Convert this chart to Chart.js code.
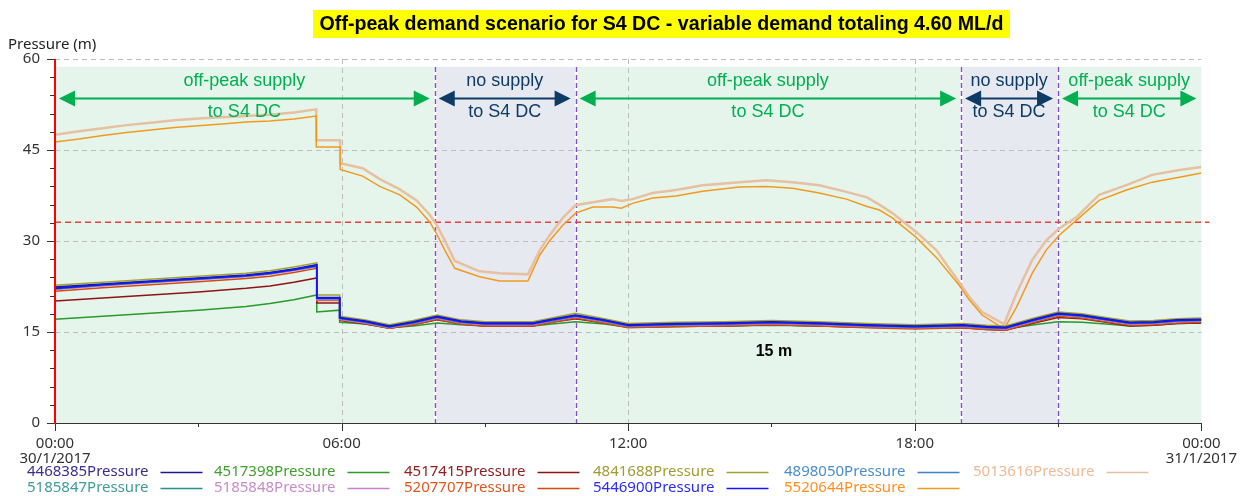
<!DOCTYPE html>
<html>
<head>
<meta charset="utf-8">
<script src="https://cdn.jsdelivr.net/npm/chart.js@4.4.0/dist/chart.umd.min.js"></script>
<style>
html,body{margin:0;padding:0;background:#ffffff;}
#wrap{position:relative;width:1250px;height:496px;}
</style>
</head>
<body>
<div id="wrap"><canvas id="c" width="1250" height="496"></canvas></div>
<script>
// ---------------- DATA ----------------
const chartTitle = 'Off-peak demand scenario for S4 DC - variable demand totaling 4.60 ML/d';
const yAxisTitle = 'Pressure (m)';

const timeTickHours = [0, 6, 12, 18, 24];
const timeTickLabels = [['00:00', '30/1/2017'], '06:00', '12:00', '18:00', ['00:00', '31/1/2017']];
const pressureTickValues = [0, 15, 30, 45, 60];

// time (hours) for the network-node series
const hoursLow = [0, 1, 2, 3, 4, 4.5, 5.0, 5.48, 5.48, 5.96, 5.96, 6.5, 7.0, 7.5, 8.0, 8.5, 9.0, 9.5, 10.0, 10.4,
  10.9, 11.5, 12.0, 13, 14, 15, 16, 17, 18, 19, 19.5, 19.9, 20.5, 21.0, 21.5, 22.0, 22.5, 23.0, 23.5, 24];

const p4468385 = [22.4, 22.9, 23.4, 23.9, 24.4, 24.8, 25.4, 26.1, 20.7, 20.7, 17.4, 16.8, 16.0, 16.7, 17.6, 16.8, 16.5, 16.5, 16.5, 17.1,
  17.8, 17.0, 16.2, 16.4, 16.5, 16.7, 16.5, 16.2, 16.0, 16.2, 15.9, 15.8, 17.1, 18.1, 17.8, 17.2, 16.6, 16.7, 17.0, 17.1];
const p4517398 = [17.1, 17.6, 18.1, 18.6, 19.2, 19.7, 20.3, 21.1, 18.3, 18.6, 16.6, 16.3, 15.7, 16.0, 16.5, 16.2, 16.0, 16.0, 16.0, 16.3,
  16.7, 16.3, 15.8, 15.9, 16.0, 16.1, 16.0, 15.8, 15.7, 15.8, 15.6, 15.5, 16.2, 16.7, 16.6, 16.3, 16.0, 16.1, 16.4, 16.5];
const p4517415 = [20.1, 20.6, 21.1, 21.6, 22.2, 22.6, 23.2, 23.9, 19.8, 19.8, 16.9, 16.3, 15.6, 16.2, 17.0, 16.3, 16.0, 16.0, 16.0, 16.6,
  17.2, 16.5, 15.8, 15.9, 16.0, 16.2, 16.0, 15.8, 15.6, 15.7, 15.4, 15.3, 16.5, 17.4, 17.2, 16.6, 16.0, 16.1, 16.4, 16.5];
const p4841688 = [22.7, 23.2, 23.7, 24.2, 24.7, 25.1, 25.7, 26.4, 21.1, 21.1, 17.6, 17.0, 16.2, 16.9, 17.8, 17.0, 16.7, 16.7, 16.7, 17.3,
  18.1, 17.2, 16.4, 16.6, 16.7, 16.9, 16.7, 16.4, 16.2, 16.4, 16.1, 16.0, 17.3, 18.3, 18.0, 17.4, 16.8, 16.9, 17.2, 17.3];
const p4898050 = [22.3, 22.8, 23.3, 23.8, 24.3, 24.7, 25.3, 25.9, 20.6, 20.6, 17.3, 16.6, 15.9, 16.5, 17.4, 16.6, 16.3, 16.3, 16.3, 16.9,
  17.6, 16.8, 16.0, 16.2, 16.3, 16.5, 16.3, 16.0, 15.8, 16.0, 15.7, 15.6, 16.9, 17.9, 17.6, 17.0, 16.4, 16.5, 16.8, 16.9];
const p5185847 = [22.1, 22.7, 23.2, 23.7, 24.2, 24.6, 25.2, 25.8, 20.5, 20.5, 17.2, 16.6, 15.8, 16.5, 17.4, 16.6, 16.3, 16.3, 16.3, 16.9,
  17.6, 16.8, 16.0, 16.2, 16.3, 16.5, 16.3, 16.0, 15.8, 16.0, 15.7, 15.6, 16.9, 17.9, 17.6, 17.0, 16.4, 16.5, 16.8, 16.9];
const p5185848 = [22.0, 22.6, 23.1, 23.6, 24.1, 24.5, 25.1, 25.7, 20.3, 20.3, 17.1, 16.5, 15.7, 16.4, 17.3, 16.5, 16.2, 16.2, 16.2, 16.8,
  17.5, 16.7, 15.9, 16.1, 16.2, 16.4, 16.2, 15.9, 15.7, 15.9, 15.6, 15.5, 16.8, 17.8, 17.5, 16.9, 16.3, 16.4, 16.7, 16.8];
const p5207707 = [21.7, 22.3, 22.8, 23.3, 23.8, 24.2, 24.8, 25.5, 20.2, 20.2, 17.0, 16.4, 15.6, 16.2, 17.1, 16.3, 16.0, 16.0, 16.0, 16.6,
  17.3, 16.5, 15.7, 15.9, 16.0, 16.2, 16.0, 15.7, 15.5, 15.7, 15.4, 15.3, 16.6, 17.6, 17.3, 16.7, 16.1, 16.2, 16.5, 16.6];
const p5446900 = [22.2, 22.8, 23.3, 23.8, 24.3, 24.7, 25.3, 26.0, 20.6, 20.6, 17.3, 16.7, 15.9, 16.6, 17.5, 16.7, 16.4, 16.4, 16.4, 17.0,
  17.7, 16.9, 16.1, 16.3, 16.4, 16.6, 16.4, 16.1, 15.9, 16.1, 15.8, 15.7, 17.0, 18.0, 17.7, 17.1, 16.5, 16.6, 16.9, 17.0];

// time (hours) for the two reservoir-side series
const hoursUpper = [0, 0.5, 1, 1.5, 2, 2.5, 3, 3.5, 4, 4.5, 5, 5.47, 5.47, 5.97, 5.97, 6.44, 6.8, 7.22, 7.57, 7.85,
  8.0, 8.16, 8.37, 8.89, 9.31, 9.9, 10.15, 10.36, 10.63, 10.9, 11.26, 11.67, 11.86, 12.09, 12.51, 13.0, 13.56, 14.33, 14.9, 15.44,
  16.0, 16.57, 17.0, 17.26, 17.53, 18.03, 18.45, 18.93, 19.14, 19.41, 19.87, 20.13, 20.46, 20.75, 21.03, 21.38, 21.86, 22.43, 22.97, 23.54, 24];
const p5520644 = [46.3, 46.8, 47.4, 47.9, 48.3, 48.7, 49.0, 49.3, 49.6, 49.8, 50.1, 50.6, 45.5, 45.5, 41.8, 40.7, 39.0, 37.6, 35.6, 33.1,
  31.0, 28.5, 25.5, 24.1, 23.4, 23.4, 27.7, 30.1, 32.6, 34.6, 35.6, 35.6, 35.4, 36.2, 37.1, 37.4, 38.2, 38.9, 39.0, 38.7,
  37.9, 36.9, 35.7, 35.1, 33.8, 30.6, 27.3, 22.7, 20.3, 17.8, 15.5, 19.1, 24.7, 28.5, 31.0, 33.4, 36.7, 38.4, 39.7, 40.5, 41.2];
const p5013616 = [47.5, 48.1, 48.6, 49.1, 49.5, 49.9, 50.2, 50.4, 50.6, 50.8, 51.2, 51.7, 46.6, 46.6, 42.8, 42.0, 40.2, 38.5, 36.7, 34.3,
  32.5, 30.1, 26.7, 25.0, 24.7, 24.5, 28.5, 31.0, 33.8, 35.9, 36.4, 36.9, 36.6, 36.9, 37.9, 38.4, 39.2, 39.7, 40.0, 39.7,
  39.2, 38.1, 37.2, 36.0, 34.6, 31.5, 28.5, 23.2, 20.8, 18.3, 16.3, 21.4, 26.9, 30.1, 32.1, 33.9, 37.6, 39.2, 40.9, 41.7, 42.2];

// supply periods (hours)
const periodStart = [0, 7.95, 10.9, 18.97, 21.0];
const periodEnd = [7.95, 10.9, 18.97, 21.0, 24];
const periodSupplied = [true, false, true, false, true];
const periodLine1 = ['off-peak supply', 'no supply', 'off-peak supply', 'no supply', 'off-peak supply'];
const periodLine2 = ['to S4 DC', 'to S4 DC', 'to S4 DC', 'to S4 DC', 'to S4 DC'];

const thresholdPressure = 33.1;
const shadeTopPressure = 58.7;
const arrowPressure = 53.5;
const noteText = '15 m';
const noteHour = 15.05;
const notePressure = 11.7;

// ---------------- STYLES ----------------
const seriesDefs = [
  {name: '4468385Pressure', hours: hoursLow, values: p4468385, line: '#1a1a86', text: '#3a2e8c', order: 1, width: 1.5},
  {name: '4517398Pressure', hours: hoursLow, values: p4517398, line: '#2a9a2a', text: '#3f9e2e', order: 8, width: 1.5},
  {name: '4517415Pressure', hours: hoursLow, values: p4517415, line: '#8e1414', text: '#8e2020', order: 7, width: 1.5},
  {name: '4841688Pressure', hours: hoursLow, values: p4841688, line: '#a3a032', text: '#a39a34', order: 5, width: 1.5},
  {name: '4898050Pressure', hours: hoursLow, values: p4898050, line: '#3f83c4', text: '#4a8ccc', order: 2, width: 1.5},
  {name: '5013616Pressure', hours: hoursUpper, values: p5013616, line: '#e6c0a0', text: '#f0b994', order: 10, width: 2.5},
  {name: '5185847Pressure', hours: hoursLow, values: p5185847, line: '#2a8f8f', text: '#3f9a9a', order: 3, width: 1.5},
  {name: '5185848Pressure', hours: hoursLow, values: p5185848, line: '#c784c7', text: '#c98ac9', order: 4, width: 1.5},
  {name: '5207707Pressure', hours: hoursLow, values: p5207707, line: '#d9480f', text: '#e0561e', order: 6, width: 1.5},
  {name: '5446900Pressure', hours: hoursLow, values: p5446900, line: '#1414ff', text: '#2a2aff', order: 0, width: 1.8},
  {name: '5520644Pressure', hours: hoursUpper, values: p5520644, line: '#f29a1e', text: '#ff8f1f', order: 9, width: 1.5}
];
// legend placement (pixels): row, left of text
const legendRow = [0, 0, 0, 0, 0, 0, 1, 1, 1, 1, 1];
const legendLeft = [27, 214, 404, 593, 784, 973, 27, 214, 404, 593, 784];
const legendRowY = [472, 488];

const FONT = '"Noto Sans", "Open Sans", sans-serif';
const ARIAL = '"Liberation Sans", Arial, sans-serif';
const GREEN = '#00b050';
const NAVY = '#0d3b66';

const datasets = seriesDefs.map(s => ({
  label: s.name,
  data: s.hours.map((h, i) => ({x: h, y: s.values[i]})),
  borderColor: s.line,
  backgroundColor: s.line,
  borderWidth: s.width,
  pointRadius: 0,
  tension: 0,
  fill: false,
  order: s.order
}));

const decorPlugin = {
  id: 'decor',
  beforeDatasetsDraw(chart) {
    const ctx = chart.ctx, a = chart.chartArea;
    const xs = chart.scales.x, ys = chart.scales.y;
    const top = ys.getPixelForValue(shadeTopPressure);
    ctx.save();
    for (let i = 0; i < periodStart.length; i++) {
      const x1 = xs.getPixelForValue(periodStart[i]);
      const x2 = xs.getPixelForValue(periodEnd[i]);
      ctx.fillStyle = periodSupplied[i] ? '#e5f5eb' : '#e6e9ef';
      ctx.fillRect(x1, top, x2 - x1, a.bottom - top);
    }
    for (let i = 1; i < periodStart.length; i++) {
      const x = Math.round(xs.getPixelForValue(periodStart[i])) + 0.5;
      ctx.strokeStyle = '#ffffff'; ctx.lineWidth = 3; ctx.setLineDash([]);
      ctx.beginPath(); ctx.moveTo(x, top); ctx.lineTo(x, a.bottom); ctx.stroke();
    }
    ctx.strokeStyle = '#bdbdbd'; ctx.lineWidth = 1; ctx.setLineDash([5, 4]);
    pressureTickValues.forEach(v => {
      if (v === 0) return;
      const y = Math.round(ys.getPixelForValue(v)) + 0.5;
      ctx.beginPath(); ctx.moveTo(a.left, y); ctx.lineTo(a.right, y); ctx.stroke();
    });
    timeTickHours.forEach(h => {
      if (h === 0 || h === 24) return;
      const x = Math.round(xs.getPixelForValue(h)) + 0.5;
      ctx.beginPath(); ctx.moveTo(x, a.top); ctx.lineTo(x, a.bottom); ctx.stroke();
    });
    ctx.strokeStyle = '#8250c4'; ctx.lineWidth = 1.5; ctx.setLineDash([5, 3]);
    for (let i = 1; i < periodStart.length; i++) {
      const x = Math.round(xs.getPixelForValue(periodStart[i])) + 0.5;
      ctx.beginPath(); ctx.moveTo(x, top); ctx.lineTo(x, a.bottom); ctx.stroke();
    }
    ctx.strokeStyle = '#e8413c'; ctx.lineWidth = 1.5; ctx.setLineDash([6, 4]);
    const ty = ys.getPixelForValue(thresholdPressure);
    ctx.beginPath(); ctx.moveTo(a.left, ty); ctx.lineTo(a.right + 8, ty); ctx.stroke();
    ctx.restore();
  },
  afterDatasetsDraw(chart) {
    const ctx = chart.ctx, a = chart.chartArea;
    const xs = chart.scales.x, ys = chart.scales.y;
    ctx.save();
    ctx.setLineDash([]);
    ctx.strokeStyle = '#333333'; ctx.lineWidth = 1;
    ctx.beginPath(); ctx.moveTo(a.left, a.bottom + 0.5); ctx.lineTo(a.right, a.bottom + 0.5); ctx.stroke();
    xs.ticks.forEach(t => {
      const x = Math.round(xs.getPixelForValue(t.value)) + 0.5;
      const major = timeTickHours.includes(t.value);
      ctx.beginPath(); ctx.moveTo(x, a.bottom); ctx.lineTo(x, a.bottom + (major ? 8 : 4)); ctx.stroke();
    });
    ys.ticks.forEach(t => {
      const y = Math.round(ys.getPixelForValue(t.value)) + 0.5;
      const major = pressureTickValues.includes(t.value);
      ctx.beginPath(); ctx.moveTo(a.left - (major ? 8 : 5), y); ctx.lineTo(a.left, y); ctx.stroke();
    });
    ctx.strokeStyle = '#ff0000'; ctx.lineWidth = 2;
    ctx.beginPath(); ctx.moveTo(a.left, a.top); ctx.lineTo(a.left, a.bottom + 1); ctx.stroke();

    const ay = Math.round(ys.getPixelForValue(arrowPressure)) + 0.5;
    for (let i = 0; i < periodStart.length; i++) {
      const col = periodSupplied[i] ? GREEN : NAVY;
      const x1 = xs.getPixelForValue(periodStart[i]) + 4;
      const x2 = xs.getPixelForValue(periodEnd[i]) - 5;
      const hl = 16, hh = 8;
      ctx.strokeStyle = col; ctx.fillStyle = col; ctx.lineWidth = 2;
      ctx.beginPath(); ctx.moveTo(x1 + hl - 2, ay); ctx.lineTo(x2 - hl + 2, ay); ctx.stroke();
      ctx.beginPath(); ctx.moveTo(x1, ay); ctx.lineTo(x1 + hl, ay - hh); ctx.lineTo(x1 + hl, ay + hh); ctx.closePath(); ctx.fill();
      ctx.beginPath(); ctx.moveTo(x2, ay); ctx.lineTo(x2 - hl, ay - hh); ctx.lineTo(x2 - hl, ay + hh); ctx.closePath(); ctx.fill();
      const cx = (x1 + x2) / 2;
      ctx.font = '18px ' + ARIAL; ctx.textAlign = 'center'; ctx.textBaseline = 'middle';
      ctx.fillText(periodLine1[i], cx, ay - 17);
      ctx.fillText(periodLine2[i], cx, ay + 14);
    }
    ctx.fillStyle = '#000000'; ctx.font = 'bold 16px ' + ARIAL; ctx.textAlign = 'center'; ctx.textBaseline = 'middle';
    ctx.fillText(noteText, xs.getPixelForValue(noteHour), ys.getPixelForValue(notePressure));

    // title (sized to fill its yellow band)
    ctx.fillStyle = '#ffff00';
    ctx.fillRect(313, 10, 697, 28);
    ctx.font = 'bold 16px ' + ARIAL;
    const tw = ctx.measureText(chartTitle).width;
    const fs = Math.min(20, 16 * 683 / tw);
    ctx.fillStyle = '#000000'; ctx.font = 'bold ' + fs.toFixed(1) + 'px ' + ARIAL; ctx.textAlign = 'center'; ctx.textBaseline = 'middle';
    ctx.fillText(chartTitle, 661.5, 25);

    ctx.fillStyle = '#222222'; ctx.font = '15px ' + FONT; ctx.textAlign = 'left'; ctx.textBaseline = 'middle';
    ctx.fillText(yAxisTitle, 8, 45);

    ctx.font = '15px ' + FONT; ctx.textBaseline = 'middle'; ctx.textAlign = 'left';
    seriesDefs.forEach((s, i) => {
      const y = legendRowY[legendRow[i]];
      const x = legendLeft[i];
      ctx.fillStyle = s.text;
      ctx.fillText(s.name, x, y);
      const w = ctx.measureText(s.name).width;
      ctx.strokeStyle = s.line; ctx.lineWidth = 1.5;
      ctx.beginPath(); ctx.moveTo(x + w + 12, y + 0.5); ctx.lineTo(x + w + 54, y + 0.5); ctx.stroke();
    });
    ctx.restore();
  }
};

new Chart(document.getElementById('c'), {
  type: 'line',
  data: {datasets},
  options: {
    responsive: false,
    animation: false,
    devicePixelRatio: 1,
    layout: {padding: {left: 0, right: 48, top: 59, bottom: 0}},
    plugins: {legend: {display: false}, title: {display: false}, tooltip: {enabled: false}},
    scales: {
      x: {
        type: 'linear', min: 0, max: 24,
        grid: {display: false, drawTicks: false},
        border: {display: false},
        afterFit: s => { s.height = 73; },
        ticks: {
          stepSize: 3, autoSkip: false, maxRotation: 0, minRotation: 0, padding: 13,
          color: '#333333', font: {family: FONT, size: 15, lineHeight: 1.0},
          callback: v => { const k = timeTickHours.indexOf(v); return k >= 0 ? timeTickLabels[k] : ''; }
        }
      },
      y: {
        type: 'linear', min: 0, max: 60,
        grid: {display: false, drawTicks: false},
        border: {display: false},
        afterFit: s => { s.width = 55; },
        ticks: {
          stepSize: 3, autoSkip: false, padding: 15,
          color: '#333333', font: {family: FONT, size: 15},
          callback: v => pressureTickValues.includes(v) ? String(v) : ''
        }
      }
    }
  },
  plugins: [decorPlugin]
});
</script>
</body>
</html>
